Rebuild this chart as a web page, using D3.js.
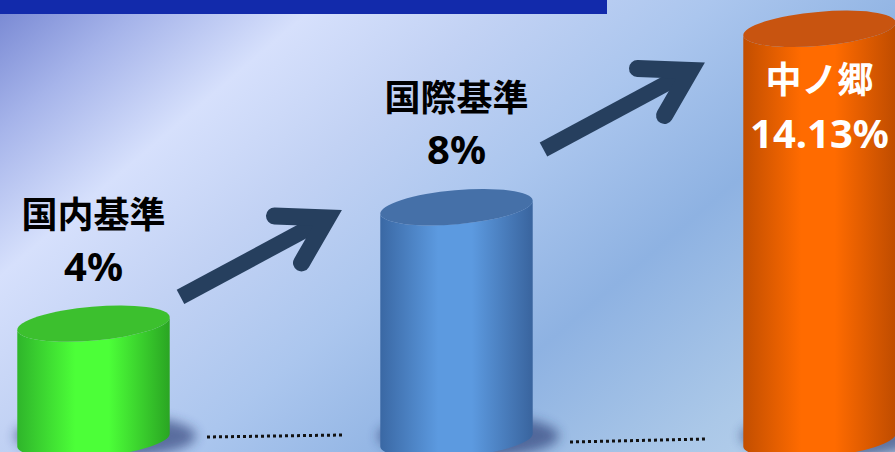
<!DOCTYPE html>
<html>
<head>
<meta charset="utf-8">
<script src="https://cdn.jsdelivr.net/npm/d3@7"></script>
<style>
  html, body { margin: 0; padding: 0; overflow: hidden; background: #b0c8ec; }
  svg { display: block; }
</style>
</head>
<body>
<svg id="chart" width="895" height="452"></svg>
<script>
// ---- data ----
const categories = ["国内基準", "国際基準", "中ノ郷"];
const values = [4, 8, 14.13];
const valueLabels = ["4%", "8%", "14.13%"];
const highlighted = "中ノ郷";

// ---- layout ----
const W = 895, H = 452;
const svg = d3.select("#chart");
const defs = svg.append("defs");

const x = d3.scaleBand()
  .domain(categories)
  .range([17, 896])
  .paddingInner(0.5785)
  .paddingOuter(0);

const y = d3.scaleLinear()
  .domain([0, 15])
  .range([440, 3.5]);

const base = y(0);
const tilt = -5;                       // degrees, right end of each ellipse is higher
const rad = tilt * Math.PI / 180;
const rx = x.bandwidth() / 2;
const ry = 17;

const palette = {
  "国内基準": { dark: "#2fb52b", light: "#4cff38", edge: "#2aa523", cap: "#3cc02e" },
  "国際基準": { dark: "#3a68a4", light: "#5c9ae0", edge: "#39649e", cap: "#4570a8" },
  "中ノ郷":   { dark: "#c24e00", light: "#ff6b00", edge: "#bf4c00", cap: "#c85410" }
};

// ---- background ----
const bg = defs.append("linearGradient")
  .attr("id", "bg")
  .attr("gradientUnits", "userSpaceOnUse")
  .attr("x1", 0).attr("y1", 0)
  .attr("x2", 601).attr("y2", 703);
[[0, "#7686d2"], [0.108, "#a6b4ea"], [0.227, "#d6e0fc"], [0.357, "#c2d2f4"],
 [0.503, "#abc6ee"], [0.666, "#8eb2e2"], [0.849, "#abc8e8"], [1, "#bcd4ee"]]
  .forEach(([o, c]) => bg.append("stop").attr("offset", o).attr("stop-color", c));

svg.append("rect").attr("width", W).attr("height", H).attr("fill", "url(#bg)");

// header band
svg.append("rect")
  .attr("x", 0).attr("y", 0)
  .attr("width", 607).attr("height", 14)
  .attr("fill", "#122aab");

// ---- gradients & filters for the cylinders ----
categories.forEach((c, i) => {
  const p = palette[c];
  const g = defs.append("linearGradient")
    .attr("id", "body" + i)
    .attr("x1", 0).attr("y1", 0).attr("x2", 1).attr("y2", 0);
  [[0, p.dark], [0.38, p.light], [0.6, p.light], [1, p.edge]]
    .forEach(([o, col]) => g.append("stop").attr("offset", o).attr("stop-color", col));
});

defs.append("filter")
  .attr("id", "soft")
  .attr("x", "-50%").attr("y", "-50%").attr("width", "200%").attr("height", "200%")
  .append("feGaussianBlur").attr("stdDeviation", 6);

// ---- dotted baseline segments between the cylinders ----
const gaps = d3.pairs(categories).map(([a, b]) => ({
  mid: (x(a) + x.bandwidth() + x(b)) / 2
}));

svg.append("g")
  .selectAll("line")
  .data(gaps)
  .join("line")
  .attr("x1", d => d.mid - 68)
  .attr("x2", d => d.mid + 67)
  .attr("y1", (d, i) => base - 3 + i * 5)
  .attr("y2", (d, i) => base - 4 + i * 4 - 1)
  .attr("stroke", "#111")
  .attr("stroke-width", 3)
  .attr("stroke-dasharray", "3,3");

// ---- shadows ----
svg.append("g")
  .selectAll("ellipse")
  .data(categories)
  .join("ellipse")
  .attr("cx", d => x(d) + rx + 12)
  .attr("cy", base - 4)
  .attr("rx", rx + 14)
  .attr("ry", 22)
  .attr("fill", "#24336a")
  .attr("opacity", 0.6)
  .attr("filter", "url(#soft)");

// ---- cylinders ----
function endPoints(cx, cy) {
  const dx = rx * Math.cos(rad), dy = rx * Math.sin(rad);
  return { l: [cx - dx, cy - dy], r: [cx + dx, cy + dy] };
}

const bars = svg.append("g")
  .selectAll("g")
  .data(categories.map((c, i) => ({ cat: c, value: values[i], label: valueLabels[i], i })))
  .join("g");

bars.append("path")
  .attr("fill", d => `url(#body${d.i})`)
  .attr("d", d => {
    const cx = x(d.cat) + rx;
    const top = endPoints(cx, y(d.value));
    const bot = endPoints(cx, base);
    return `M${top.l}L${bot.l}A${rx},${ry} ${tilt} 0 0 ${bot.r}` +
           `L${top.r}A${rx},${ry} ${tilt} 0 1 ${top.l}Z`;
  });

bars.append("ellipse")
  .attr("cx", d => x(d.cat) + rx)
  .attr("cy", d => y(d.value))
  .attr("rx", rx)
  .attr("ry", ry)
  .attr("transform", d => `rotate(${tilt},${x(d.cat) + rx},${y(d.value)})`)
  .attr("fill", d => palette[d.cat].cap);

// ---- labels ----
const inside = d => d.cat === highlighted;

bars.append("text")
  .attr("x", d => x(d.cat) + rx)
  .attr("y", d => inside(d) ? y(d.value) + 64 : y(d.value) - 96)
  .attr("text-anchor", "middle")
  .attr("font-family", "'Noto Sans CJK JP', 'Noto Sans', sans-serif")
  .attr("font-weight", 700)
  .attr("font-size", 36)
  .attr("fill", d => inside(d) ? "#ffffff" : "#000000")
  .text(d => d.cat);

bars.append("text")
  .attr("x", d => x(d.cat) + rx)
  .attr("y", d => inside(d) ? y(d.value) + 119 : y(d.value) - 43)
  .attr("text-anchor", "middle")
  .attr("font-family", "'Noto Sans', 'DejaVu Sans', sans-serif")
  .attr("font-weight", 700)
  .attr("font-size", 40)
  .attr("fill", d => inside(d) ? "#ffffff" : "#000000")
  .text(d => d.label);

// ---- rising arrows between neighbouring cylinders ----
const arrowAnchors = d3.pairs(categories.map((c, i) => ({ c, v: values[i] })))
  .map(([a, b]) => ({
    cx: (x(a.c) + x.bandwidth() + x(b.c)) / 2 - 21,
    cy: (y(a.v) + y(b.v)) / 2 - 8
  }));

// shape in local coordinates, centred on the shaft midpoint
const shaftStart = [-73.5, 39.5], joint = [73.5, -39.5];
const barbUp = [20.5, -41.5], barbDown = [47.5, 5.5];

const arrows = svg.append("g")
  .selectAll("g")
  .data(arrowAnchors)
  .join("g")
  .attr("transform", d => `translate(${d.cx},${d.cy})`);

arrows.append("line")
  .attr("x1", shaftStart[0]).attr("y1", shaftStart[1])
  .attr("x2", joint[0]).attr("y2", joint[1])
  .attr("stroke", "#263f5e")
  .attr("stroke-width", 16);

arrows.append("path")
  .attr("d", `M${barbUp}L${joint}L${barbDown}`)
  .attr("fill", "none")
  .attr("stroke", "#263f5e")
  .attr("stroke-width", 17)
  .attr("stroke-linecap", "round")
  .attr("stroke-linejoin", "miter")
  .attr("stroke-miterlimit", 6);
</script>
</body>
</html>
